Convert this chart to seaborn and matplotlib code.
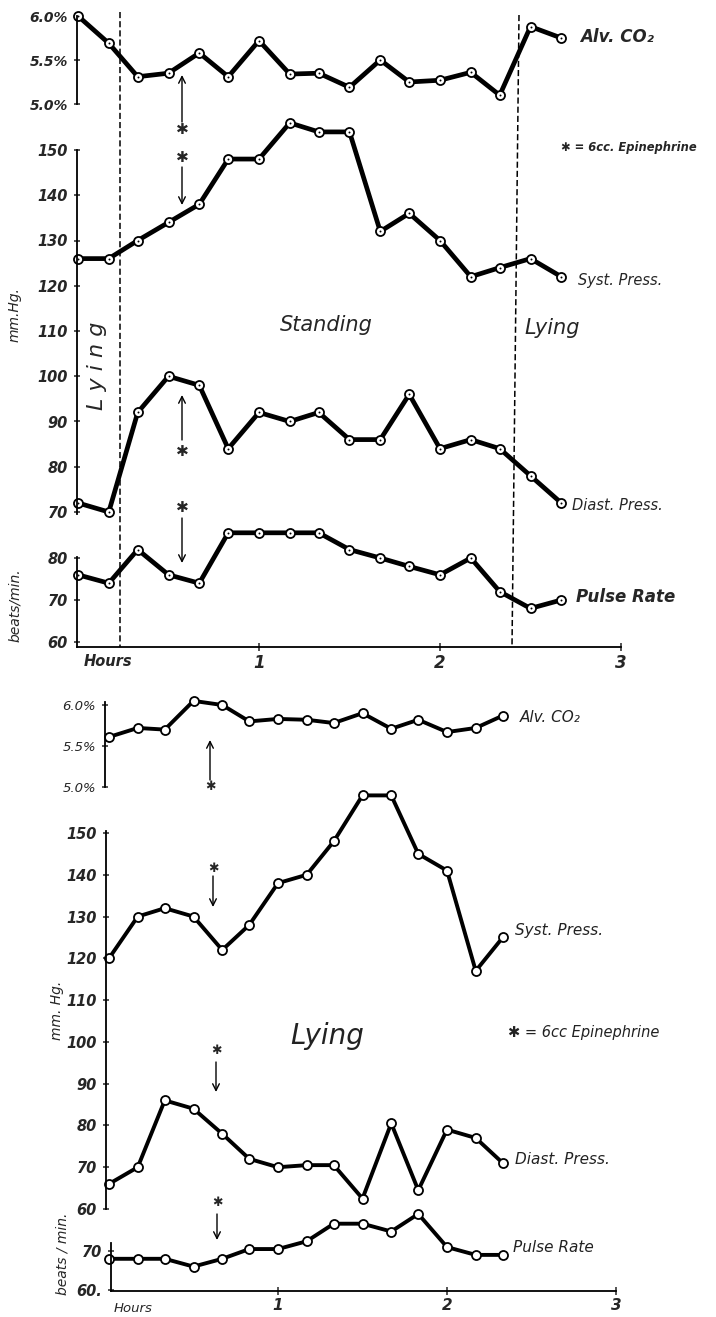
import matplotlib
matplotlib.use("Agg")
import matplotlib.pyplot as plt
import seaborn as sns

# ---------------- data: upper experiment (standing) ----------------
top_hours = [0.0, 0.17, 0.33, 0.50, 0.67, 0.83, 1.00, 1.17, 1.33, 1.50, 1.67, 1.83, 2.00, 2.17, 2.33, 2.50, 2.67]
top_co2 = [6.00, 5.69, 5.31, 5.35, 5.58, 5.31, 5.72, 5.34, 5.35, 5.19, 5.50, 5.25, 5.27, 5.36, 5.10, 5.88, 5.75]
top_syst = [126, 126, 130, 134, 138, 148, 148, 156, 154, 154, 132, 136, 130, 122, 124, 126, 122]
top_diast = [72, 70, 92, 100, 98, 84, 92, 90, 92, 86, 86, 96, 84, 86, 84, 78, 72]
top_pulse = [76, 74, 82, 76, 74, 86, 86, 86, 86, 82, 80, 78, 76, 80, 72, 68, 70]

# ---------------- data: lower experiment (lying) ----------------
bot_hours = [0.0, 0.17, 0.33, 0.50, 0.67, 0.83, 1.00, 1.17, 1.33, 1.50, 1.67, 1.83, 2.00, 2.17, 2.33]
bot_co2 = [5.61, 5.72, 5.70, 6.05, 6.00, 5.80, 5.83, 5.82, 5.78, 5.90, 5.71, 5.82, 5.67, 5.72, 5.87]
bot_syst = [120, 130, 132, 130, 122, 128, 138, 140, 148, 159, 159, 145, 141, 117, 125]
bot_diast = [66, 70, 86, 84, 78, 72, 70, 70.5, 70.5, 62.5, 80.5, 64.5, 79, 77, 71]
bot_pulse = [68, 68, 68, 66, 68, 70.5, 70.5, 72.5, 77, 77, 75, 79.5, 71, 69, 69]

hour_ticks = [1, 2, 3]
hour_labels = ["1", "2", "3"]
co2_ticks = [5.0, 5.5, 6.0]
co2_labels = ["5.0%", "5.5%", "6.0%"]
top_mm_ticks = [70, 80, 90, 100, 110, 120, 130, 140, 150]
bot_mm_ticks = [60, 70, 80, 90, 100, 110, 120, 130, 140, 150]
top_pulse_ticks = [60, 70, 80]
bot_pulse_ticks = [60, 70]
bot_pulse_labels = ["60.", "70"]

sns.set_style("white")
plt.rcParams["font.family"] = ["DejaVu Sans"]
plt.rcParams["font.style"] = "italic"

W, H = 716, 1317
fig = plt.figure(figsize=(W / 100, H / 100), dpi=100)


def make_ax(ptop, pbot, x0, k, ref_a, ref_b):
    ax = fig.add_axes([0, 1 - pbot / H, 1, (pbot - ptop) / H])
    ax.patch.set_alpha(0)
    (va, ya), (vb, yb) = ref_a, ref_b
    slope = (vb - va) / (yb - ya)
    val = lambda y: va + (y - ya) * slope
    return ax, ((0 - x0) / k, (W - x0) / k), (val(pbot), val(ptop)), val


def style_ax(ax, xlim, ylim, spine_x, bounds, ticks, labels, fs, weight="bold", xaxis=None):
    ax.set_xlim(*xlim)
    ax.set_ylim(*ylim)
    for s in ["top", "right"]:
        ax.spines[s].set_visible(False)
    ax.spines["left"].set_position(("data", spine_x))
    ax.spines["left"].set_bounds(*bounds)
    ax.spines["left"].set_linewidth(1.3)
    ax.spines["left"].set_color("k")
    ax.set_yticks(ticks)
    ax.set_yticklabels(labels, fontsize=fs, fontweight=weight)
    ax.tick_params(axis="y", direction="inout", length=5, width=1.1, pad=4, left=True)
    ax.set_xlabel("")
    ax.set_ylabel("")
    if xaxis is None:
        ax.spines["bottom"].set_visible(False)
        ax.set_xticks([])
    else:
        lo, hi, fsx = xaxis
        ax.spines["bottom"].set_bounds(lo, hi)
        ax.spines["bottom"].set_linewidth(1.3)
        ax.spines["bottom"].set_color("k")
        ax.set_xticks(hour_ticks)
        ax.set_xticklabels(hour_labels, fontsize=fsx, fontweight="bold")
        ax.tick_params(axis="x", direction="inout", length=6, width=1.1, pad=2, bottom=True)


def draw(ax, x, y, lw, dots):
    sns.lineplot(x=x, y=y, ax=ax, color="k", linewidth=lw, marker="o", markersize=6.5,
                 markerfacecolor="white", markeredgecolor="k", markeredgewidth=1.3,
                 legend=False, sort=False)
    if dots:
        sns.scatterplot(x=x, y=y, ax=ax, s=2, color="k", linewidth=0, zorder=5, legend=False)


# ---------------- upper panel ----------------
X0T, KT = 78, 181
sxT = (77 - X0T) / KT
ax, xl, yl, _ = make_ax(0, 647, X0T, KT, (6.0, 16), (5.0, 104))
draw(ax, top_hours, top_co2, 3.4, True)
style_ax(ax, xl, yl, sxT, (5.0, 6.0), co2_ticks, co2_labels, 10)

ax, xl, yl, _ = make_ax(0, 647, X0T, KT, (150, 150), (70, 512))
draw(ax, top_hours, top_syst, 3.4, True)
draw(ax, top_hours, top_diast, 3.4, True)
style_ax(ax, xl, yl, sxT, (69.5, 150), top_mm_ticks, [str(t) for t in top_mm_ticks], 10.5)

ax, xl, yl, val = make_ax(0, 647, X0T, KT, (80, 558), (60, 642))
draw(ax, top_hours, top_pulse, 3.4, True)
style_ax(ax, xl, yl, sxT, (val(647), val(557)), top_pulse_ticks,
         [str(t) for t in top_pulse_ticks], 10.5, xaxis=(sxT, 3.0, 12))

# ---------------- lower panel ----------------
X0B, KB = 109, 169
ax, xl, yl, val = make_ax(680, 1291, X0B, KB, (6.0, 705), (5.0, 787))
draw(ax, bot_hours, bot_co2, 2.8, False)
style_ax(ax, xl, yl, (105 - X0B) / KB, (5.0, val(702)), co2_ticks, co2_labels, 9.5, weight="normal")

ax, xl, yl, _ = make_ax(680, 1291, X0B, KB, (150, 833), (60, 1209))
draw(ax, bot_hours, bot_syst, 2.8, False)
draw(ax, bot_hours, bot_diast, 2.8, False)
style_ax(ax, xl, yl, (106 - X0B) / KB, (60, 150.5), bot_mm_ticks, [str(t) for t in bot_mm_ticks], 10.5)

ax, xl, yl, val = make_ax(680, 1291, X0B, KB, (70, 1251), (60, 1290))
draw(ax, bot_hours, bot_pulse, 2.8, False)
spx = (111 - X0B) / KB
style_ax(ax, xl, yl, spx, (val(1291), val(1243)), bot_pulse_ticks, bot_pulse_labels, 10.5,
         xaxis=(spx, 3.0, 11))

# ---------------- overlay annotations (pixel coordinates) ----------------
ov = fig.add_axes([0, 0, 1, 1])
ov.set_xlim(0, W)
ov.set_ylim(H, 0)
ov.axis("off")
ov.patch.set_alpha(0)

# dashed posture-change lines (upper panel)
ov.plot([120, 120], [12, 647], color="k", lw=1.1, ls=(0, (4, 2)))
ov.plot([519, 512], [15, 647], color="k", lw=1.1, ls=(0, (4, 2)))


def arrow(x, y_tail, y_head):
    ov.annotate("", xy=(x, y_head), xytext=(x, y_tail),
                arrowprops=dict(arrowstyle="->", lw=1.0, color="k", shrinkA=0, shrinkB=0,
                                mutation_scale=12))


def star(x, y, fs=11):
    ov.text(x, y, "✱", ha="center", va="center", fontsize=fs, fontstyle="normal")


# upper panel epinephrine marks
arrow(182, 122, 75); star(182, 130); star(182, 157); arrow(182, 167, 205)
arrow(182, 440, 395); star(182, 452); star(182, 508); arrow(182, 518, 563)
# lower panel epinephrine marks
arrow(210, 780, 740); star(210, 787, 9)
star(213, 868, 9); arrow(213, 876, 907)
star(216, 1050, 9); arrow(216, 1062, 1092)
star(217, 1202, 9); arrow(217, 1214, 1240)

# series labels upper
ov.text(580, 37, "Alv. CO₂", fontsize=12, fontweight="bold", va="center")
ov.text(561, 148, "✱ = 6cc. Epinephrine", fontsize=8.3, fontweight="bold", va="center")
ov.text(578, 280, "Syst. Press.", fontsize=10.5, va="center")
ov.text(572, 505, "Diast. Press.", fontsize=10.5, va="center")
ov.text(576, 597, "Pulse Rate", fontsize=12, fontweight="bold", va="center")
ov.text(280, 325, "Standing", fontsize=15, va="center")
ov.text(524, 328, "Lying", fontsize=15, va="center")
ov.text(97, 366, "L y i n g", fontsize=16, rotation=90, ha="center", va="center")
ov.text(15, 315, "mm.Hg.", fontsize=10, rotation=90, ha="center", va="center")
ov.text(15, 605, "beats/min.", fontsize=10, rotation=90, ha="center", va="center")
ov.text(84, 661, "Hours", fontsize=10.5, fontweight="bold", va="center")

# series labels lower
ov.text(520, 717, "Alv. CO₂", fontsize=11, va="center", color="#222222")
ov.text(515, 930, "Syst. Press.", fontsize=11, va="center", color="#222222")
ov.text(290, 1036, "Lying", fontsize=20, va="center", fontweight="light", color="#222222")
ov.text(508, 1033, "✱ = 6cc Epinephrine", fontsize=10.5, va="center", color="#222222")
ov.text(57, 1010, "mm. Hg.", fontsize=10, rotation=90, ha="center", va="center")
ov.text(515, 1160, "Diast. Press.", fontsize=11, va="center", color="#222222")
ov.text(513, 1247, "Pulse Rate", fontsize=11, va="center", color="#222222")
ov.text(63, 1254, "beats / min.", fontsize=10, rotation=90, ha="center", va="center")
ov.text(114, 1309, "Hours", fontsize=9.5, va="center")

fig.savefig("out.png", dpi=100, facecolor="white")
